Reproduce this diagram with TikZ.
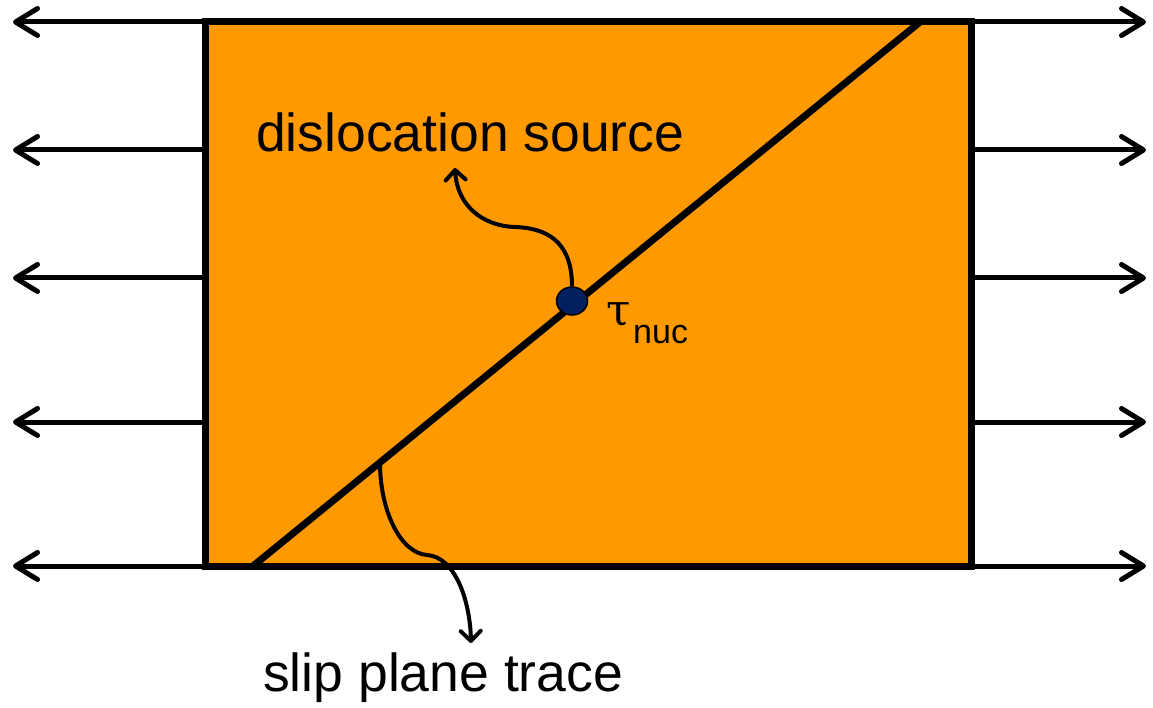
\documentclass[tikz,border=0pt]{standalone}
\usepackage{fontspec}
\setmainfont{Liberation Sans}
\newfontfamily\greekserif{DejaVu Serif}
\usetikzlibrary{arrows.meta,shapes.geometric}
\definecolor{boxorange}{RGB}{255,153,0}
\definecolor{dotnavy}{RGB}{0,32,96}
\tikzset{
  specimen/.style={draw=black, fill=boxorange, line width=7pt, rectangle, inner sep=0pt,
    minimum width=766pt, minimum height=544pt},
  stressarrow/.style={line width=5pt, -{Straight Barb[length=22pt,width=27pt,line cap=round,line join=round]}},
  slipline/.style={line width=7pt},
  pointer/.style={line width=4pt, -{Straight Barb[length=10pt,width=20pt,line cap=round,line join=round]}},
  srcdot/.style={ellipse, draw=black, line width=1.5pt, fill=dotnavy, minimum width=31pt, minimum height=28pt, inner sep=0pt},
  lbl/.style={inner sep=0pt, anchor=base west, font=\fontsize{53.5}{60}\selectfont}
}
\begin{document}
\begin{tikzpicture}[x=1pt,y=-1pt]
\useasboundingbox (0,0) rectangle (1153,708);
% specimen
\node[specimen] (box) at (588,294) {};
% stress arrows
\coordinate (L1) at (13,22);
\coordinate (L2) at (13,150);
\coordinate (L3) at (13,278);
\coordinate (L4) at (13,422);
\coordinate (L5) at (13,566);
\coordinate (R1) at (1146,22);
\coordinate (R2) at (1146,150);
\coordinate (R3) at (1146,278);
\coordinate (R4) at (1146,422);
\coordinate (R5) at (1146,566);
\foreach \i in {1,...,5}{
  \draw[stressarrow] (box.west |- L\i) -- (L\i);
  \draw[stressarrow] (box.east |- R\i) -- (R\i);
}
% slip plane trace
\coordinate (s1) at (253,566);
\coordinate (s2) at (920,22);
\draw[slipline] (s1) -- (s2);
% labels
\node[lbl] (srclbl) at (256,152) {dislocation source};
\node[lbl] (sliplbl) at (263,691) {slip plane trace};
\node[inner sep=0pt, anchor=base west, font=\greekserif\fontsize{44}{48}\selectfont] (tau) at (606,326) {τ};
\node[inner sep=0pt, anchor=base west, font=\fontsize{34}{40}\selectfont] (nuc) at (633,343) {nuc};
% source dot
\node[srcdot] (src) at (572,301) {};
% pointers
\coordinate (tipA) at (455,168);
\coordinate (midA) at (515,227);
\draw[pointer] (src.north) .. controls (572,240) and (545,228) .. (midA)
  .. controls (482,226) and (457,205) .. (tipA);
\coordinate (startB) at (380,463);
\coordinate (midB) at (427,555);
\coordinate (tipB) at (471,643);
\draw[pointer] (startB) .. controls (380,510) and (400,553) .. (midB)
  .. controls (455,557) and (470,600) .. (tipB);
\end{tikzpicture}
\end{document}
